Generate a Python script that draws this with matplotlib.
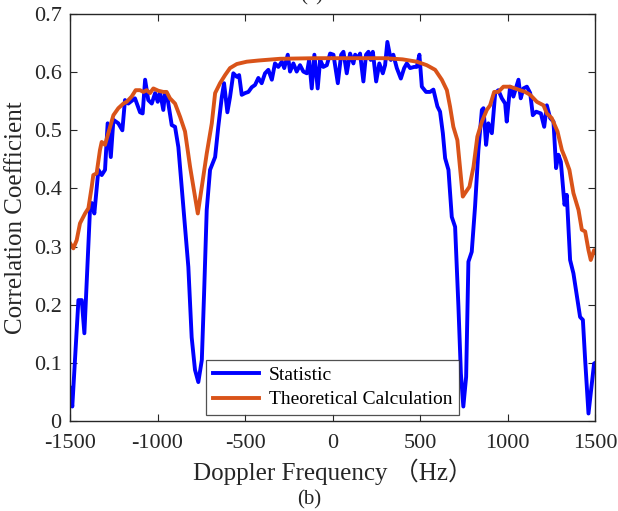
import matplotlib
matplotlib.use("Agg")
import matplotlib.pyplot as plt

# Statistic (measured) correlation coefficient vs Doppler frequency
stat_freq = [
    -1500, -1487, -1452, -1433, -1418, -1386, -1376, -1361, -1338, -1319,
    -1300, -1285, -1267, -1252, -1224, -1201, -1186, -1167, -1129, -1100,
    -1085, -1071, -1053, -1033, -1014, -999, -986, -967, -957, -944,
    -919, -900, -881, -862, -843, -824, -805, -786, -767, -747,
    -734, -719, -700, -671, -653, -633, -620, -601, -586, -567,
    -547, -534, -519, -500, -481, -462, -443, -424, -405, -386,
    -367, -347, -329, -310, -290, -276, -256, -243, -224, -205,
    -186, -167, -147, -134, -119, -104, -85, -71, -53, -33,
    -14, 5, 30, 49, 62, 81, 100, 119, 129, 148,
    157, 176, 191, 205, 218, 230, 249, 267, 287, 300,
    313, 333, 347, 367, 390, 409, 424, 443, 466, 481,
    496, 510, 534, 557, 576, 599, 614, 630, 643, 662,
    681, 700, 719, 733, 747, 763, 776, 795, 814, 833,
    853, 862, 877, 890, 910, 929, 947, 967, 986, 995,
    1014, 1033, 1062, 1075, 1090, 1110, 1129, 1144, 1163, 1190,
    1209, 1224, 1243, 1262, 1277, 1290, 1304, 1325, 1338, 1357,
    1376, 1399, 1414, 1430, 1443, 1462, 1475, 1494, 1500,
]
stat_vals = [
    0.057, 0.025, 0.208, 0.208, 0.151, 0.363, 0.375, 0.357, 0.432, 0.423,
    0.432, 0.512, 0.454, 0.518, 0.512, 0.500, 0.552, 0.546, 0.555, 0.531,
    0.529, 0.587, 0.552, 0.546, 0.564, 0.549, 0.566, 0.535, 0.564, 0.557,
    0.509, 0.506, 0.471, 0.402, 0.334, 0.265, 0.144, 0.088, 0.067, 0.105,
    0.220, 0.363, 0.432, 0.454, 0.506, 0.557, 0.581, 0.531, 0.557, 0.598,
    0.592, 0.595, 0.561, 0.564, 0.566, 0.574, 0.578, 0.590, 0.581, 0.598,
    0.604, 0.587, 0.615, 0.609, 0.618, 0.607, 0.630, 0.601, 0.615, 0.601,
    0.612, 0.601, 0.598, 0.621, 0.572, 0.630, 0.572, 0.621, 0.609, 0.612,
    0.632, 0.630, 0.581, 0.630, 0.635, 0.598, 0.632, 0.615, 0.630, 0.624,
    0.632, 0.584, 0.630, 0.635, 0.621, 0.635, 0.584, 0.615, 0.598, 0.612,
    0.652, 0.621, 0.630, 0.607, 0.589, 0.607, 0.615, 0.607, 0.609, 0.609,
    0.630, 0.575, 0.566, 0.566, 0.570, 0.541, 0.532, 0.495, 0.452, 0.432,
    0.351, 0.334, 0.197, 0.082, 0.025, 0.076, 0.274, 0.291, 0.369, 0.466,
    0.535, 0.538, 0.475, 0.512, 0.495, 0.564, 0.569, 0.555, 0.546, 0.515,
    0.575, 0.558, 0.587, 0.555, 0.572, 0.575, 0.564, 0.526, 0.532, 0.529,
    0.506, 0.543, 0.521, 0.515, 0.435, 0.458, 0.446, 0.372, 0.389, 0.277,
    0.254, 0.208, 0.179, 0.174, 0.105, 0.013, 0.048, 0.099, 0.100,
]

# Theoretical calculation
theo_freq = [
    -1500, -1481, -1462, -1443, -1414, -1395, -1376, -1367, -1348, -1329,
    -1319, -1300, -1271, -1252, -1224, -1195, -1176, -1148, -1125, -1100,
    -1081, -1062, -1043, -1024, -995, -967, -948, -929, -900, -871,
    -843, -814, -786, -770, -747, -719, -690, -671, -643, -614,
    -586, -547, -490, -424, -300, -100, 100, 300, 400, 481,
    538, 586, 624, 653, 671, 690, 713, 744, 757, 782,
    805, 827, 853, 881, 900, 923, 947, 976, 1014, 1043,
    1071, 1100, 1129, 1167, 1205, 1224, 1252, 1285, 1310, 1329,
    1353, 1376, 1405, 1424, 1443, 1462, 1475, 1494, 1500,
]
theo_vals = [
    0.306, 0.297, 0.311, 0.340, 0.357, 0.366, 0.403, 0.423, 0.426, 0.466,
    0.480, 0.475, 0.506, 0.526, 0.538, 0.546, 0.549, 0.558, 0.569, 0.569,
    0.566, 0.569, 0.564, 0.572, 0.568, 0.566, 0.566, 0.555, 0.546, 0.523,
    0.498, 0.437, 0.386, 0.357, 0.403, 0.460, 0.512, 0.564, 0.581, 0.595,
    0.607, 0.614, 0.618, 0.620, 0.623, 0.624, 0.624, 0.624, 0.622, 0.618,
    0.612, 0.604, 0.587, 0.569, 0.541, 0.506, 0.483, 0.386, 0.392, 0.403,
    0.437, 0.489, 0.515, 0.535, 0.543, 0.566, 0.566, 0.575, 0.575, 0.572,
    0.569, 0.566, 0.561, 0.549, 0.543, 0.529, 0.521, 0.498, 0.466, 0.452,
    0.432, 0.392, 0.363, 0.329, 0.326, 0.294, 0.277, 0.294, 0.290,
]

x_ticks = [-1500, -1000, -500, 0, 500, 1000, 1500]
y_ticks = [0, 0.1, 0.2, 0.3, 0.4, 0.5, 0.6, 0.7]

serif = ["Liberation Serif", "Noto Sans CJK SC"]
plt.rcParams["font.family"] = serif

fig = plt.figure(figsize=(6.18, 5.11), dpi=100)
ax = fig.add_axes([0.1133, 0.176, 0.8497, 0.7966])

ax.plot(stat_freq, stat_vals, color="#0000FF", lw=2.8, label="Statistic")
ax.plot(theo_freq, theo_vals, color="#D95319", lw=2.8, label="Theoretical Calculation")

ax.set_xlim(-1500, 1500)
ax.set_ylim(0, 0.7)
ax.set_xticks(x_ticks)
ax.set_yticks(y_ticks)
ax.set_xticklabels([str(t) for t in x_ticks])
ax.set_yticklabels(["0"] + [f"{t:.1f}" for t in y_ticks[1:]])
ax.tick_params(direction="in", top=True, right=True, labelsize=16,
               length=5, width=0.8, colors="#262626", labelcolor="#262626")
ax.tick_params(axis="x", pad=9)
ax.tick_params(axis="y", pad=6)
for sp in ax.spines.values():
    sp.set_linewidth(1.0)
    sp.set_color("#262626")

ax.set_xlabel("Doppler Frequency （Hz）", fontsize=18, color="#262626", labelpad=4)
ax.set_ylabel("Correlation Coefficient", fontsize=18, color="#262626", labelpad=5)

leg = ax.legend(loc="lower center", bbox_to_anchor=(0.5, 0.0), fontsize=14,
                frameon=True, fancybox=False, edgecolor="#262626",
                handlelength=2.4, handletextpad=0.5, borderaxespad=0.3,
                labelspacing=0.35, borderpad=0.35)
leg.get_frame().set_linewidth(0.9)

fig.text(0.5, 1 - 500 / 511, "(b)", ha="center", va="center", fontsize=15, color="#262626")
fig.text(0.505, 1 - 0.5 / 511, "(a)", ha="center", va="baseline", fontsize=15, color="#262626")

fig.savefig("out.png", dpi=100)
